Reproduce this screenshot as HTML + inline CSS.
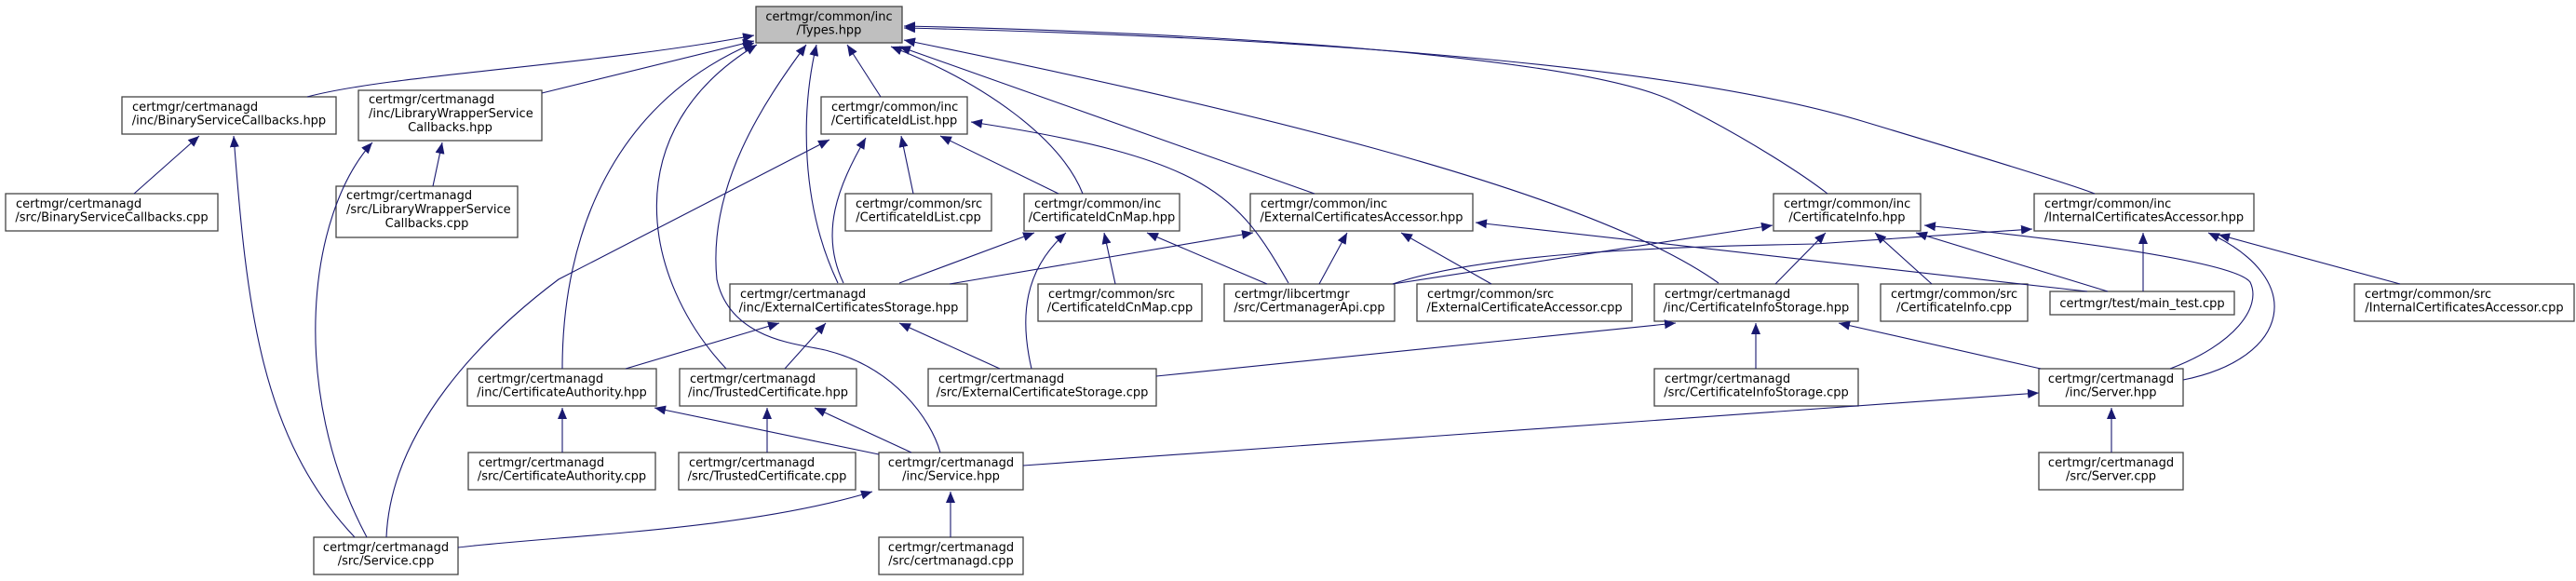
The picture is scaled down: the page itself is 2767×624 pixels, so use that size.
<!DOCTYPE html>
<html><head><meta charset="utf-8"><style>
html,body{margin:0;padding:0;background:#fff;}
svg{display:block;}
text{font-family:"DejaVu Sans","Liberation Sans",sans-serif;font-size:13px;fill:#000;}
.n{fill:#fff;stroke:#444;stroke-width:1.3;}
.e{fill:none;stroke:#191970;stroke-width:1.1;marker-start:url(#a);}
</style></head><body>
<svg width="2767" height="624" viewBox="0 0 2767 624" xmlns="http://www.w3.org/2000/svg">
<defs>
<marker id="a" viewBox="0 0 12 10" refX="0" refY="5" markerWidth="12" markerHeight="10" markerUnits="userSpaceOnUse" orient="auto">
<path d="M0,5 L12,0 L12,10 z" fill="#191970"/>
</marker>
</defs>
<g>
<rect x="812" y="7" width="157" height="39" fill="#bfbfbf" stroke="#444" stroke-width="1.3"/>
<rect class="n" x="131" y="104" width="230" height="40"/>
<rect class="n" x="385" y="97" width="197" height="54"/>
<rect class="n" x="6" y="208" width="228" height="40"/>
<rect class="n" x="361" y="200" width="195" height="55"/>
<rect class="n" x="882" y="104" width="157" height="40"/>
<rect class="n" x="908" y="208" width="157" height="40"/>
<rect class="n" x="1100" y="208" width="167" height="40"/>
<rect class="n" x="1343" y="208" width="239" height="40"/>
<rect class="n" x="1905" y="208" width="158" height="40"/>
<rect class="n" x="2185" y="208" width="236" height="40"/>
<rect class="n" x="784" y="305" width="255" height="40"/>
<rect class="n" x="1115" y="305" width="176" height="40"/>
<rect class="n" x="1315" y="305" width="183" height="40"/>
<rect class="n" x="1522" y="305" width="231" height="40"/>
<rect class="n" x="1777" y="305" width="219" height="40"/>
<rect class="n" x="2020" y="305" width="158" height="40"/>
<rect class="n" x="2202" y="313" width="198" height="25"/>
<rect class="n" x="2529" y="305" width="236" height="40"/>
<rect class="n" x="502" y="396" width="203" height="40"/>
<rect class="n" x="730" y="396" width="190" height="40"/>
<rect class="n" x="997" y="396" width="245" height="40"/>
<rect class="n" x="1777" y="396" width="219" height="40"/>
<rect class="n" x="2190" y="396" width="155" height="40"/>
<rect class="n" x="503" y="486" width="201" height="40"/>
<rect class="n" x="729" y="486" width="190" height="40"/>
<rect class="n" x="944" y="486" width="155" height="40"/>
<rect class="n" x="2190" y="486" width="155" height="40"/>
<rect class="n" x="337" y="577" width="155" height="40"/>
<rect class="n" x="944" y="577" width="155" height="40"/>
</g>
<g>
<path class="e" d="M810,38 C640,70 420,80 330,104"/>
<path class="e" d="M810,44 L582,100"/>
<path class="e" d="M810,46 C660,110 604,250 604,396"/>
<path class="e" d="M813,48 C660,140 690,300 780,396"/>
<path class="e" d="M866,48 C820,110 760,200 770,300 C785,370 870,370 890,377 C960,395 1000,450 1010,486"/>
<path class="e" d="M877,48 C860,120 860,220 900,304"/>
<path class="e" d="M910,48 L946,104"/>
<path class="e" d="M957,50 C1060,90 1140,150 1163,208"/>
<path class="e" d="M966,50 L1412,208"/>
<path class="e" d="M971,43 C1300,110 1700,200 1846,304"/>
<path class="e" d="M971,28 C1300,35 1700,60 1800,110 C1880,150 1940,190 1963,208"/>
<path class="e" d="M971,30 C1400,40 1800,70 2000,130 C2150,175 2230,200 2250,208"/>
<path class="e" d="M214,146 L144,208"/>
<path class="e" d="M251,146 C265,330 280,470 381,577"/>
<path class="e" d="M400,153 C330,230 310,420 394,577"/>
<path class="e" d="M475,153 L465,200"/>
<path class="e" d="M968,146 L981,208"/>
<path class="e" d="M1010,146 L1137,208"/>
<path class="e" d="M891,150 L600,300 C520,360 420,460 415,577"/>
<path class="e" d="M930,148 C900,200 880,250 906,304"/>
<path class="e" d="M1043,131 C1300,170 1330,210 1384,304"/>
<path class="e" d="M1111,250 L966,304"/>
<path class="e" d="M1186,250 L1198,305"/>
<path class="e" d="M1232,250 L1361,305"/>
<path class="e" d="M1145,250 C1100,290 1095,340 1108,396"/>
<path class="e" d="M1346,250 L1020,305"/>
<path class="e" d="M1447,250 L1417,305"/>
<path class="e" d="M1505,250 L1602,305"/>
<path class="e" d="M1585,239 L2242,313"/>
<path class="e" d="M1904,242 L1496,305"/>
<path class="e" d="M1961,250 L1907,305"/>
<path class="e" d="M2014,250 L2075,305"/>
<path class="e" d="M2058,250 L2264,313"/>
<path class="e" d="M2067,242 C2200,255 2400,280 2417,303 C2430,330 2400,370 2331,396"/>
<path class="e" d="M2183,246 L1950,262 C1800,265 1600,270 1496,305"/>
<path class="e" d="M2302,250 L2302,313"/>
<path class="e" d="M2372,250 C2480,300 2460,385 2345,408"/>
<path class="e" d="M2383,252 L2578,305"/>
<path class="e" d="M837,347 L672,396"/>
<path class="e" d="M887,347 L843,396"/>
<path class="e" d="M966,347 L1074,396"/>
<path class="e" d="M1800,347 L1242,404"/>
<path class="e" d="M1886,347 L1886,396"/>
<path class="e" d="M1975,347 L2192,396"/>
<path class="e" d="M604,438 L604,486"/>
<path class="e" d="M703,438 L944,488"/>
<path class="e" d="M824,438 L824,486"/>
<path class="e" d="M875,438 L979,486"/>
<path class="e" d="M937,528 C800,570 600,575 492,588"/>
<path class="e" d="M1021,528 L1021,577"/>
<path class="e" d="M2190,422 L1099,500"/>
<path class="e" d="M2268,438 L2268,486"/>
</g>
<g>
<text x="890.5" y="22" text-anchor="middle">certmgr/common/inc</text><text x="890.5" y="36.5" text-anchor="middle">/Types.hpp</text>
<text x="142" y="119">certmgr/certmanagd</text><text x="246" y="133.5" text-anchor="middle">/inc/BinaryServiceCallbacks.hpp</text>
<text x="396" y="111">certmgr/certmanagd</text><text x="396" y="126">/inc/LibraryWrapperService</text><text x="483.5" y="141" text-anchor="middle">Callbacks.hpp</text>
<text x="17" y="223">certmgr/certmanagd</text><text x="120" y="237.5" text-anchor="middle">/src/BinaryServiceCallbacks.cpp</text>
<text x="372" y="214">certmgr/certmanagd</text><text x="372" y="229">/src/LibraryWrapperService</text><text x="458.5" y="244" text-anchor="middle">Callbacks.cpp</text>
<text x="893" y="119">certmgr/common/inc</text><text x="960.5" y="133.5" text-anchor="middle">/CertificateIdList.hpp</text>
<text x="919" y="223">certmgr/common/src</text><text x="986.5" y="237.5" text-anchor="middle">/CertificateIdList.cpp</text>
<text x="1111" y="223">certmgr/common/inc</text><text x="1183.5" y="237.5" text-anchor="middle">/CertificateIdCnMap.hpp</text>
<text x="1354" y="223">certmgr/common/inc</text><text x="1462.5" y="237.5" text-anchor="middle">/ExternalCertificatesAccessor.hpp</text>
<text x="1916" y="223">certmgr/common/inc</text><text x="1984" y="237.5" text-anchor="middle">/CertificateInfo.hpp</text>
<text x="2196" y="223">certmgr/common/inc</text><text x="2303" y="237.5" text-anchor="middle">/InternalCertificatesAccessor.hpp</text>
<text x="795" y="320">certmgr/certmanagd</text><text x="911.5" y="334.5" text-anchor="middle">/inc/ExternalCertificatesStorage.hpp</text>
<text x="1126" y="320">certmgr/common/src</text><text x="1203" y="334.5" text-anchor="middle">/CertificateIdCnMap.cpp</text>
<text x="1326" y="320">certmgr/libcertmgr</text><text x="1406.5" y="334.5" text-anchor="middle">/src/CertmanagerApi.cpp</text>
<text x="1533" y="320">certmgr/common/src</text><text x="1637.5" y="334.5" text-anchor="middle">/ExternalCertificateAccessor.cpp</text>
<text x="1788" y="320">certmgr/certmanagd</text><text x="1886.5" y="334.5" text-anchor="middle">/inc/CertificateInfoStorage.hpp</text>
<text x="2031" y="320">certmgr/common/src</text><text x="2099" y="334.5" text-anchor="middle">/CertificateInfo.cpp</text>
<text x="2301" y="330" text-anchor="middle">certmgr/test/main_test.cpp</text>
<text x="2540" y="320">certmgr/common/src</text><text x="2647" y="334.5" text-anchor="middle">/InternalCertificatesAccessor.cpp</text>
<text x="513" y="411">certmgr/certmanagd</text><text x="603.5" y="425.5" text-anchor="middle">/inc/CertificateAuthority.hpp</text>
<text x="741" y="411">certmgr/certmanagd</text><text x="825" y="425.5" text-anchor="middle">/inc/TrustedCertificate.hpp</text>
<text x="1008" y="411">certmgr/certmanagd</text><text x="1119.5" y="425.5" text-anchor="middle">/src/ExternalCertificateStorage.cpp</text>
<text x="1788" y="411">certmgr/certmanagd</text><text x="1886.5" y="425.5" text-anchor="middle">/src/CertificateInfoStorage.cpp</text>
<text x="2267.5" y="411" text-anchor="middle">certmgr/certmanagd</text><text x="2267.5" y="425.5" text-anchor="middle">/inc/Server.hpp</text>
<text x="514" y="501">certmgr/certmanagd</text><text x="603.5" y="515.5" text-anchor="middle">/src/CertificateAuthority.cpp</text>
<text x="740" y="501">certmgr/certmanagd</text><text x="824" y="515.5" text-anchor="middle">/src/TrustedCertificate.cpp</text>
<text x="1021.5" y="501" text-anchor="middle">certmgr/certmanagd</text><text x="1021.5" y="515.5" text-anchor="middle">/inc/Service.hpp</text>
<text x="2267.5" y="501" text-anchor="middle">certmgr/certmanagd</text><text x="2267.5" y="515.5" text-anchor="middle">/src/Server.cpp</text>
<text x="414.5" y="592" text-anchor="middle">certmgr/certmanagd</text><text x="414.5" y="606.5" text-anchor="middle">/src/Service.cpp</text>
<text x="1021.5" y="592" text-anchor="middle">certmgr/certmanagd</text><text x="1021.5" y="606.5" text-anchor="middle">/src/certmanagd.cpp</text>
</g>
</svg>
</body></html>
